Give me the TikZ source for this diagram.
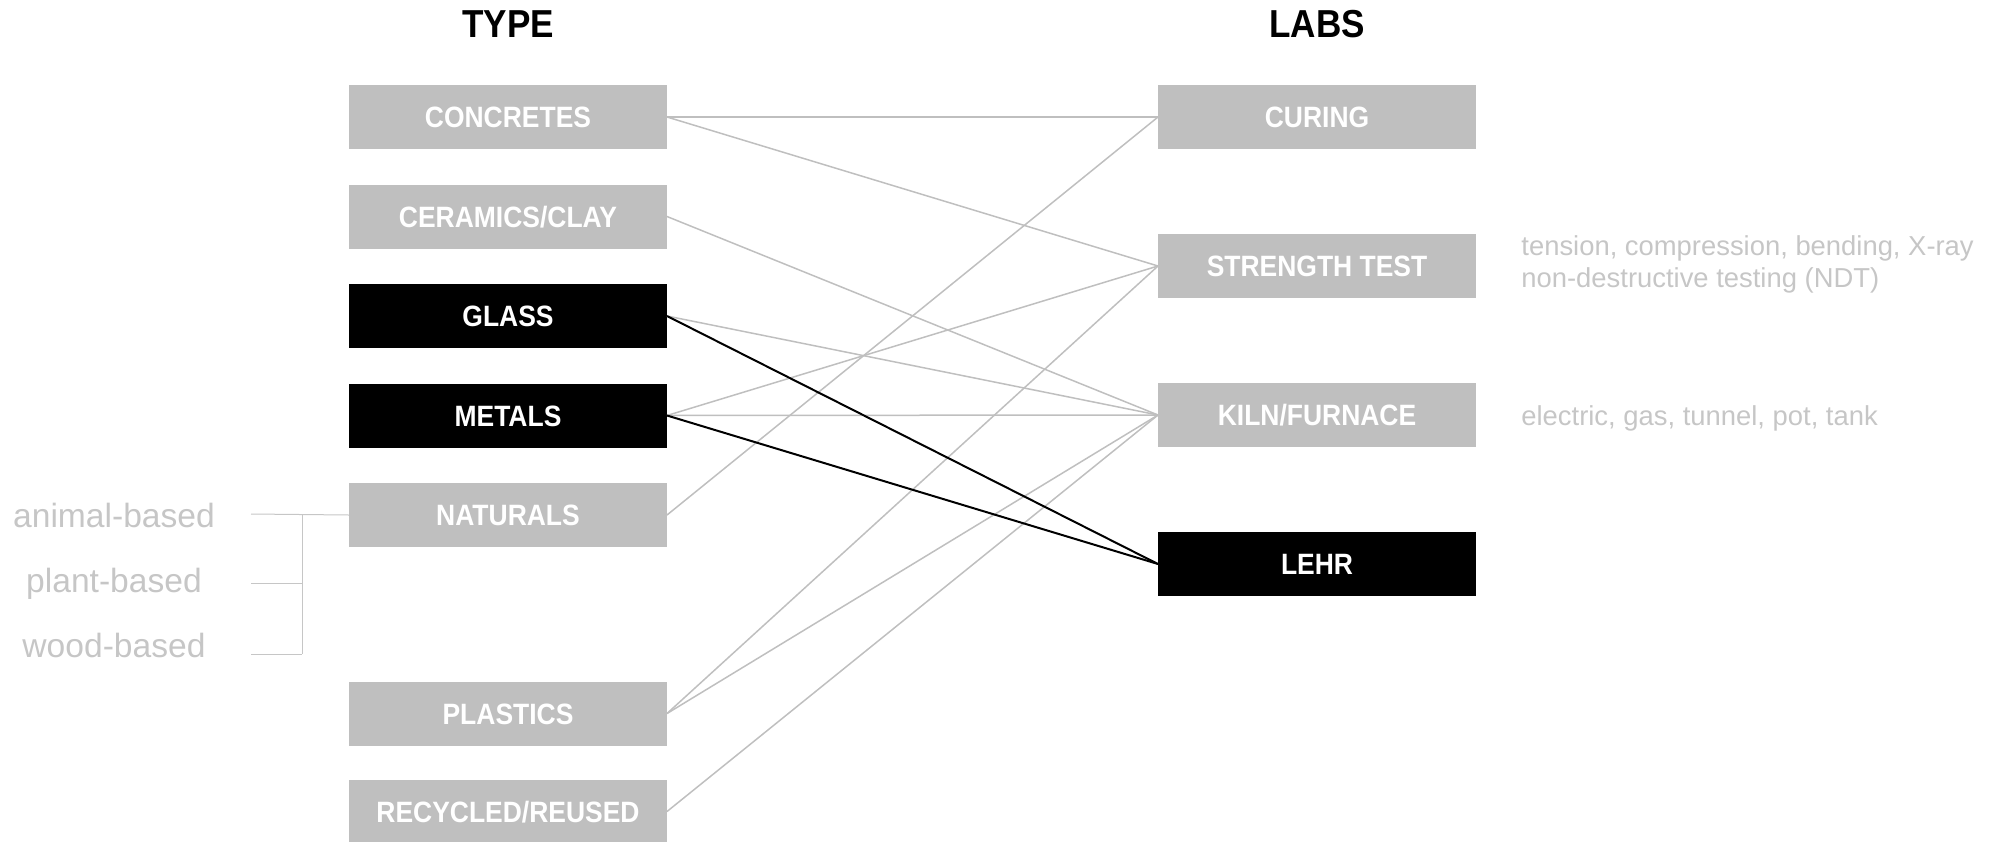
\documentclass[tikz,border=0pt]{standalone}
\usepackage{fontspec}
\setmainfont{Liberation Sans}
\newfontfamily\boxfont[FakeStretch=0.9]{Liberation Sans}
\usepackage{xcolor}
\usetikzlibrary{positioning}
\definecolor{boxgray}{HTML}{BFBFBF}
\definecolor{notegray}{HTML}{C6C6C6}

\begin{document}
\begin{tikzpicture}[
    x=0.5pt,
    y=-0.5pt,
    node distance=17.75pt,
    heading/.style={
        inner sep=0pt,
        font=\boxfont\bfseries\fontsize{19.5pt}{22pt}\selectfont
    },
    material/.style={
        rectangle,
        fill=boxgray,
        text=white,
        minimum width=159pt,
        minimum height=32pt,
        inner sep=0pt,
        outer sep=0pt,
        text height=10.5pt,
        text depth=0pt,
        font=\boxfont\bfseries\fontsize{14.7pt}{17pt}\selectfont
    },
    selected/.style={fill=black},
    subtype/.style={
        inner sep=0pt,
        text=notegray,
        font=\fontsize{16.8pt}{20pt}\selectfont
    },
    labnote/.style={
        inner sep=0pt,
        text=notegray,
        align=left,
        font=\fontsize{13.7pt}{16pt}\selectfont
    },
    link/.style={draw=boxgray, line width=0.75pt},
    hotlink/.style={draw=black, line width=1pt},
    bracket/.style={draw=notegray, line width=0.5pt}
]
\useasboundingbox (0,0) rectangle (1997,841);

% headings
\node (typehead) [heading] at (508,24) {TYPE};
\node (labshead) [heading] at (1317,24) {LABS};

% material types
\node (concretes) [material] at (508,117) {CONCRETES};
\node (ceramics) [material, below=of concretes] {CERAMICS/CLAY};
\node (glass) [material, selected, below=of ceramics] {GLASS};
\node (metals) [material, selected, below=of glass] {METALS};
\node (naturals) [material, below=of metals] {NATURALS};
\node (plastics) [material, below=67.25pt of naturals] {PLASTICS};
\node (recycled) [material, below=17pt of plastics] {RECYCLED/REUSED};

% labs
\node (curing) [material] at (1317,117) {CURING};
\node (strength) [material, below=42.5pt of curing] {STRENGTH TEST};
\node (kiln) [material, below=42.5pt of strength] {KILN/FURNACE};
\node (lehr) [material, selected, below=42.5pt of kiln] {LEHR};

% notes
\node (animal) [subtype, anchor=base] at (114,527) {animal-based};
\node (plant) [subtype, anchor=base] at (114,592) {plant-based};
\node (wood) [subtype, anchor=base] at (114,657) {wood-based};
\node (strengthnote) [labnote, anchor=west] at (1521,264) {tension, compression, bending, X-ray\\non-destructive testing (NDT)};
\node (kilnnote) [labnote, anchor=base west] at (1521,425) {electric, gas, tunnel, pot, tank};

% bracket
\coordinate (animalend) at (251,514);
\coordinate (plantend) at (251,583);
\coordinate (woodend) at (251,654);
\coordinate (forktop) at (302,514);
\coordinate (forkbot) at (302,654);
\draw [bracket] (naturals.west) -- (animalend);
\draw [bracket] (forktop) -- (forkbot);
\draw [bracket] (plantend) -- (plantend -| forktop);
\draw [bracket] (woodend) -- (forkbot);

% links
\draw [link] (concretes.east) -- (curing.west);
\draw [link] (concretes.east) -- (strength.west);
\draw [link] (ceramics.east) -- (kiln.west);
\draw [link] (glass.east) -- (kiln.west);
\draw [link] (metals.east) -- (strength.west);
\draw [link] (metals.east) -- (kiln.west);
\draw [link] (naturals.east) -- (curing.west);
\draw [link] (plastics.east) -- (strength.west);
\draw [link] (plastics.east) -- (kiln.west);
\draw [link] (recycled.east) -- (kiln.west);
\draw [hotlink] (glass.east) -- (lehr.west);
\draw [hotlink] (metals.east) -- (lehr.west);
\end{tikzpicture}
\end{document}
